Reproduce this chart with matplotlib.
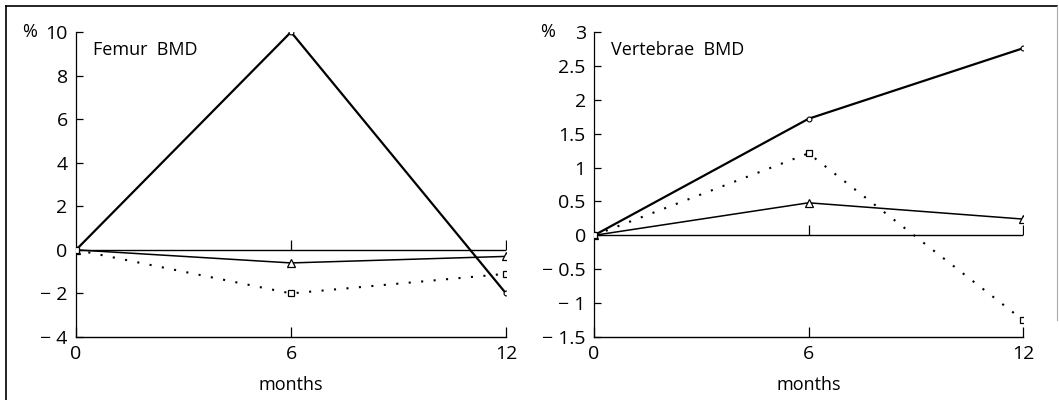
import matplotlib.pyplot as plt
from matplotlib.lines import Line2D

months = [0, 6, 12]

# Femur BMD (% change)
femur_circle = [0, 10, -2.0]
femur_triangle = [0, -0.6, -0.3]
femur_square = [0, -2.0, -1.1]
femur_yticks = [-4, -2, 0, 2, 4, 6, 8, 10]
femur_ylabels = ['\u2212 4', '\u2212 2', '0', '2', '4', '6', '8', '10']

# Vertebrae BMD (% change)
vert_circle = [0, 1.72, 2.76]
vert_triangle = [0, 0.48, 0.24]
vert_square = [0, 1.21, -1.25]
vert_yticks = [-1.5, -1, -0.5, 0, 0.5, 1, 1.5, 2, 2.5, 3]
vert_ylabels = ['\u2212 1.5', '\u2212 1', '\u2212 0.5', '0', '0.5', '1', '1.5', '2', '2.5', '3']

plt.rcParams['font.family'] = ['Open Sans', 'DejaVu Sans']

fig = plt.figure(figsize=(10.59, 4.0), dpi=100)

# outer frame (left, top, faint right)
fig.add_artist(Line2D([0.0057, 0.0057], [0.0, 0.985], transform=fig.transFigure, color='black', lw=1.2))
fig.add_artist(Line2D([0.0057, 0.998], [0.985, 0.985], transform=fig.transFigure, color='black', lw=1.2))
fig.add_artist(Line2D([0.998, 0.998], [0.2, 0.985], transform=fig.transFigure, color='#aaaaaa', lw=0.8))


def draw_panel(ax, circle, triangle, square, yticks, ylabels, title):
    ax.plot(months, circle, color='black', lw=1.6, marker='o', ms=3.5,
            mfc='white', mec='black', mew=0.8, zorder=4)
    ax.plot(months, triangle, color='black', lw=1.1, marker='^', ms=6,
            mfc='white', mec='black', mew=0.9, zorder=4)
    ax.plot(months, square, color='black', lw=1.5, ls=(0, (1, 5)), marker='s', ms=5,
            mfc='white', mec='black', mew=0.9, zorder=4)
    # zero reference line with upward ticks
    ax.plot([0, 12], [0, 0], color='black', lw=1.0, zorder=3)
    ax.plot([6, 12], [0, 0], ls='none', marker=2, ms=7, color='black', mew=0.9)

    ax.set_xlim(0, 12)
    ax.set_ylim(yticks[0], yticks[-1])
    ax.set_xticks(months)
    ax.set_xticklabels(['0', '6', '12'], fontsize=14)
    ax.set_yticks(yticks)
    ax.set_yticklabels(ylabels, fontsize=14)
    ax.tick_params(axis='x', direction='in', length=7, width=0.9, pad=6)
    ax.tick_params(axis='y', direction='in', length=5, width=0.9, pad=6)
    ax.spines['top'].set_visible(False)
    ax.spines['right'].set_visible(False)
    ax.spines['left'].set_linewidth(0.9)
    ax.spines['bottom'].set_linewidth(1.0)
    ax.set_xlabel('months', fontsize=13, labelpad=9)
    ax.text(0.04, 0.94, title, transform=ax.transAxes, fontsize=13, va='center', ha='left')
    ax.text(-0.09, 1.0, '%', transform=ax.transAxes, fontsize=13, va='center', ha='right')
    ax.patch.set_alpha(0)


ax1 = fig.add_axes([0.0718, 0.1575, 0.406, 0.7625])
draw_panel(ax1, femur_circle, femur_triangle, femur_square, femur_yticks, femur_ylabels, 'Femur  BMD')

ax2 = fig.add_axes([0.561, 0.1575, 0.405, 0.7625])
draw_panel(ax2, vert_circle, vert_triangle, vert_square, vert_yticks, vert_ylabels, 'Vertebrae  BMD')

fig.savefig('out.png', dpi=100)
